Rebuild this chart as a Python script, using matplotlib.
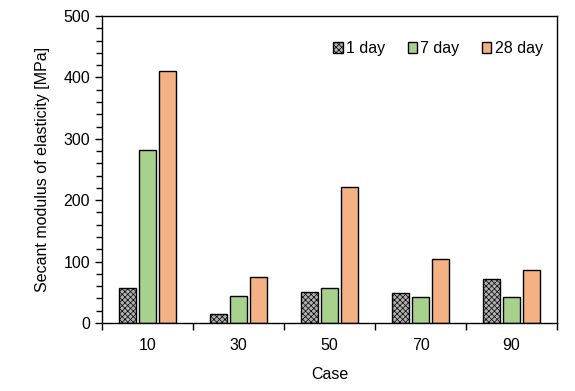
import matplotlib
matplotlib.use('Agg')
import matplotlib.pyplot as plt
import numpy as np
from matplotlib.ticker import MultipleLocator, FixedLocator

plt.rcParams['font.family'] = ['Liberation Sans', 'DejaVu Sans']
plt.rcParams['hatch.linewidth'] = 0.5

cases = ['10', '30', '50', '70', '90']
day1 = [57, 15, 50, 49, 72]
day7 = [282, 44, 57, 43, 43]
day28 = [410, 75, 221, 104, 86]

FS = 11.5

fig = plt.figure(figsize=(5.75, 3.91), dpi=100)
ax = fig.add_axes([0.1774, 0.174, 0.7913, 0.785])

x = np.arange(len(cases))
w = 0.19
step = 0.22
ax.bar(x - step, day1, w, facecolor='#b0b0b0', edgecolor='black',
       hatch='xxxxxx', linewidth=1.0, label='1 day')
ax.bar(x, day7, w, facecolor='#a9d18e', edgecolor='black',
       linewidth=1.0, label='7 day')
ax.bar(x + step, day28, w, facecolor='#f4b183', edgecolor='black',
       linewidth=1.0, label='28 day')

ax.set_xlim(-0.5, len(cases) - 0.5)
ax.set_ylim(0, 500)
ax.yaxis.set_major_locator(MultipleLocator(100))
ax.yaxis.set_minor_locator(MultipleLocator(20))
ax.set_xticks(x)
ax.set_xticklabels(cases)
ax.xaxis.set_minor_locator(FixedLocator(np.arange(-0.5, len(cases), 1.0)))
ax.tick_params(axis='x', which='major', length=0, pad=11, labelsize=FS)
ax.tick_params(axis='x', which='minor', length=5, width=1, direction='out')
ax.tick_params(axis='y', which='major', length=5, width=1, direction='out',
               labelsize=FS)
ax.tick_params(axis='y', which='minor', length=4, width=1, direction='out')
for s in ax.spines.values():
    s.set_linewidth(1.0)

ax.set_xlabel('Case', fontsize=FS, labelpad=10)
ax.set_ylabel('Secant modulus of elasticity [MPa]', fontsize=FS, labelpad=10)

ax.legend(loc='upper right', ncol=3, frameon=False, fontsize=FS,
          handlelength=0.6, handleheight=0.6, handletextpad=0.2,
          columnspacing=1.4, bbox_to_anchor=(1.0, 0.965))

fig.savefig('out.png', dpi=100)
